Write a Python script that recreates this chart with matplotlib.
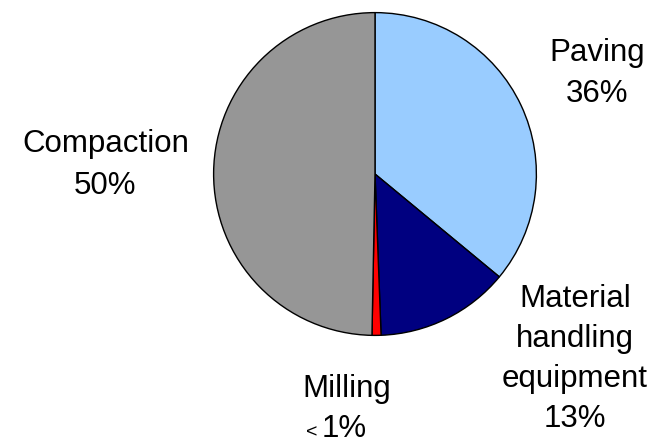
import matplotlib.pyplot as plt

plt.rcParams["font.family"] = ["Liberation Sans", "DejaVu Sans"]

categories = ["Paving", "Material handling equipment", "Milling", "Compaction"]
shares = [36.0, 13.4, 0.9, 49.7]
colors = ["#99CCFF", "#000080", "#FF0000", "#969696"]

W, H = 654, 443
fig = plt.figure(figsize=(W / 100, H / 100), dpi=100)

# pie axes: centre (375, 174) px, radius 163 px
cx, cy, r = 375, 174, 163
ax = fig.add_axes([(cx - r) / W, (H - cy - r) / H, 2 * r / W, 2 * r / H])
ax.pie(shares, colors=colors, startangle=90, counterclock=False,
       wedgeprops={"edgecolor": "black", "linewidth": 1.0})
ax.set_xlim(-1.01, 1.01)
ax.set_ylim(-1.01, 1.01)
ax.set_aspect("auto")
ax.axis("off")


def put(text, x, y, size=22.5, ha="center"):
    # x, y in pixels from top-left, y = baseline
    fig.text(x / W, 1 - y / H, text, fontsize=size, ha=ha, va="baseline")


put("Paving", 597, 61)
put("36%", 597, 102)

put("Compaction", 106, 152)
put("50%", 105, 194)

put("Material", 575, 307)
put("handling", 575, 347)
put("equipment", 575, 387)
put("13%", 575, 427)

put("Milling", 347, 397)
put("<", 312, 437, size=14)
put("1%", 322, 437, ha="left")

fig.savefig("out.png", dpi=100)
